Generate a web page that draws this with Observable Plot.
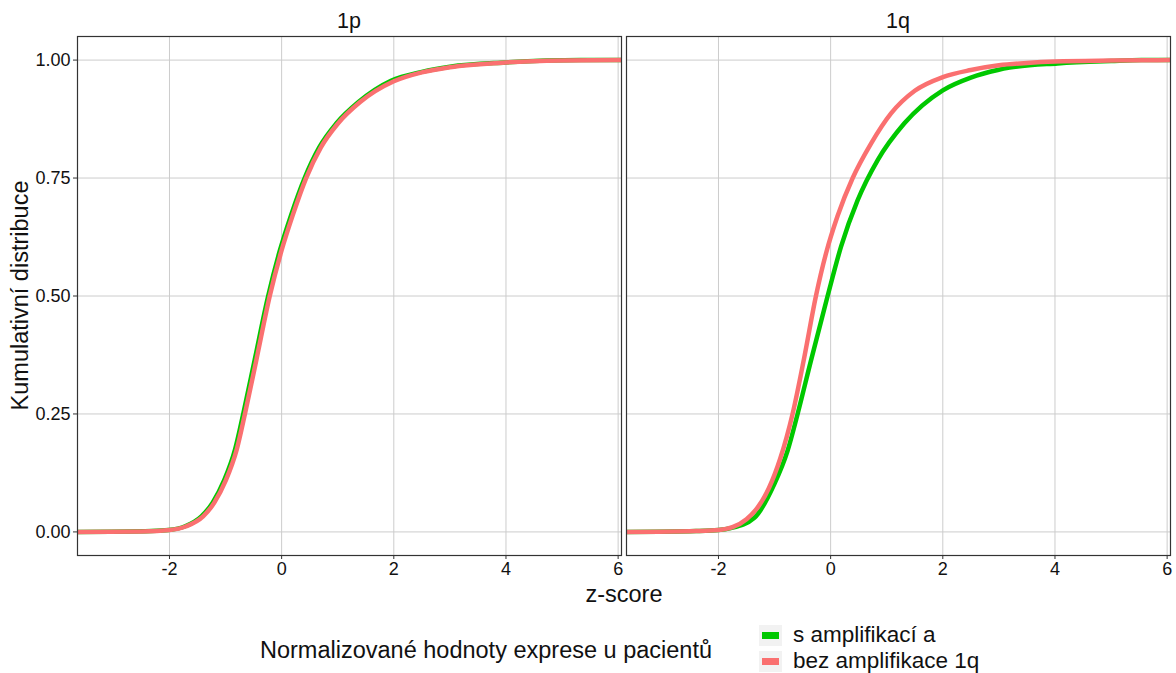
<!DOCTYPE html>
<html>
<head>
<meta charset="utf-8">
<script src="https://cdn.jsdelivr.net/npm/d3@7"></script>
<script src="https://cdn.jsdelivr.net/npm/@observablehq/plot@0.6"></script>
<style>
  body { margin: 0; background: #fff; font-family: "Liberation Sans", Arial, sans-serif; }
  #wrap { position: relative; width: 1176px; height: 673px; overflow: hidden; }
  #legend { position: absolute; left: 0; top: 0; width: 1176px; height: 673px; pointer-events: none; }
  .lg-title { position: absolute; left: 260px; top: 638px; font-size: 23.5px; line-height: 24px; color: #111; white-space: nowrap; }
  .lg-key { position: absolute; left: 759px; width: 23px; height: 21px; background: #f2f2f2; }
  .lg-key span { position: absolute; left: 3px; top: 7px; width: 17px; height: 7px; }
  .lg-label { position: absolute; left: 793px; font-size: 22.5px; color: #111; white-space: nowrap; line-height: 26px; height: 26px; }
</style>
</head>
<body>
<div id="wrap">
  <div id="chart"></div>
  <div id="legend"></div>
</div>
<script>
// ---- data ----
const panels = ["1p", "1q"];
const groupLabels = ["s amplifikací a", "bez amplifikace 1q"];
const groupColors = ["#00c800", "#fa7070"];
const legendTitle = "Normalizované hodnoty exprese u pacientů";
const xLabel = "z-score";
const yLabel = "Kumulativní distribuce";
const xTicks = [-2, 0, 2, 4, 6];
const yTicks = [0, 0.25, 0.5, 0.75, 1];

// panel 1p, green (s amplifikací)
const z_1p_green = [-3.64, -2.32, -2.02, -1.72, -1.43, -1.23, -1.03, -0.83, -0.685, -0.48, -0.24, -0.03, 0.17, 0.41, 0.67, 0.97, 1.37, 1.95, 2.5, 3.0, 4.0, 5.33, 6.06];
const F_1p_green = [0, 0.002, 0.004, 0.012, 0.033, 0.062, 0.108, 0.175, 0.25, 0.365, 0.5, 0.597, 0.672, 0.75, 0.815, 0.865, 0.911, 0.956, 0.975, 0.986, 0.995, 1.0, 1.0];
// panel 1p, red (bez amplifikace)
const z_1p_red = [-3.64, -2.5, -2.0, -1.7, -1.4, -1.2, -1.0, -0.8, -0.655, -0.45, -0.212, 0.0, 0.2, 0.437, 0.7, 1.0, 1.4, 2.0, 2.5, 3.0, 4.0, 5.0, 6.06];
const F_1p_red = [0, 0.001, 0.004, 0.012, 0.033, 0.062, 0.108, 0.175, 0.25, 0.365, 0.5, 0.597, 0.672, 0.75, 0.815, 0.865, 0.911, 0.955, 0.974, 0.985, 0.995, 0.999, 1.0];
// panel 1q, green
const z_1q_green = [-3.64, -2.4, -2.0, -1.78, -1.36, -1.006, -0.768, -0.589, -0.351, -0.054, 0.184, 0.482, 0.839, 1.315, 2.0, 2.5, 2.98, 3.19, 4.05, 5.0, 5.54, 6.06];
const F_1q_green = [0, 0.002, 0.004, 0.008, 0.030, 0.101, 0.172, 0.25, 0.363, 0.5, 0.604, 0.703, 0.788, 0.866, 0.936, 0.963, 0.979, 0.984, 0.993, 0.998, 1.0, 1.0];
// panel 1q, red
const z_1q_red = [-3.64, -2.4, -2.0, -1.75, -1.5, -1.3, -1.1, -0.9, -0.679, -0.47, -0.262, -0.083, 0.125, 0.393, 0.72, 1.077, 1.5, 2.0, 2.5, 3.0, 3.5, 4.0, 5.0, 6.06];
const F_1q_red = [0, 0.002, 0.004, 0.010, 0.027, 0.052, 0.093, 0.155, 0.25, 0.37, 0.5, 0.59, 0.67, 0.75, 0.823, 0.887, 0.935, 0.964, 0.979, 0.989, 0.994, 0.997, 0.999, 1.0];

function rows(panel, zs, Fs) { return zs.map((z, i) => ({panel, z, F: Fs[i]})); }
const greenRows = [...rows("1p", z_1p_green, F_1p_green), ...rows("1q", z_1q_green, F_1q_green)];
const redRows = [...rows("1p", z_1p_red, F_1p_red), ...rows("1q", z_1q_red, F_1q_red)];

const W = 1176, H = 612;
const chart = Plot.plot({
  width: W,
  height: H,
  marginLeft: 77,
  marginRight: 5,
  marginTop: 36,
  marginBottom: H - 555,
  style: {fontFamily: "'Liberation Sans', Arial, sans-serif", color: "#333", background: "#fff"},
  fx: {domain: panels, paddingInner: 0.0091, paddingOuter: 0, label: null, axis: null},
  x: {domain: [-3.64, 6.06], label: null},
  y: {domain: [-0.05, 1.05], label: null},
  marks: [
    Plot.gridX(xTicks, {stroke: "#cccccc", strokeOpacity: 1, strokeWidth: 1}),
    Plot.gridY(yTicks, {stroke: "#cccccc", strokeOpacity: 1, strokeWidth: 1}),
    Plot.line(greenRows, {x: "z", y: "F", fx: "panel", stroke: groupColors[0], strokeWidth: 4.5, curve: "monotone-x", clip: true}),
    Plot.line(redRows, {x: "z", y: "F", fx: "panel", stroke: groupColors[1], strokeWidth: 4.5, curve: "monotone-x", clip: true}),
    Plot.frame({stroke: "#333", strokeWidth: 1.2}),
    Plot.axisX(xTicks, {tickSize: 4, tickPadding: 3, fontSize: 18, label: null, tickFormat: d => String(d), stroke: "#333", fill: "#111"}),
    Plot.axisY(yTicks, {tickSize: 4, tickPadding: 3, fontSize: 18, label: null, tickFormat: d => d.toFixed(2), stroke: "#333", fill: "#111"})
  ]
});

const svg = d3.select(chart);
const fxScale = chart.scale("fx");
panels.forEach(p => {
  svg.append("text")
    .attr("x", fxScale.apply(p) + fxScale.bandwidth / 2)
    .attr("y", 28)
    .attr("text-anchor", "middle")
    .attr("font-size", 21.5).attr("fill", "#111")
    .text(p);
});
svg.append("text")
  .attr("x", (77 + 1171) / 2).attr("y", 602)
  .attr("text-anchor", "middle")
  .attr("font-size", 23.5).attr("fill", "#111")
  .text(xLabel);
svg.append("text")
  .attr("transform", `translate(28, ${(36 + 555) / 2}) rotate(-90)`)
  .attr("text-anchor", "middle")
  .attr("font-size", 23.5).attr("fill", "#111")
  .text(yLabel);

document.getElementById("chart").appendChild(chart);

// ---- legend ----
const lg = document.getElementById("legend");
const t = document.createElement("div");
t.className = "lg-title";
t.textContent = legendTitle;
lg.appendChild(t);
groupLabels.forEach((lab, i) => {
  const k = document.createElement("div");
  k.className = "lg-key";
  k.style.top = (625 + i * 26) + "px";
  const s = document.createElement("span");
  s.style.background = groupColors[i];
  k.appendChild(s);
  lg.appendChild(k);
  const l = document.createElement("div");
  l.className = "lg-label";
  l.style.top = (622 + i * 26) + "px";
  l.textContent = lab;
  lg.appendChild(l);
});
</script>
</body>
</html>
